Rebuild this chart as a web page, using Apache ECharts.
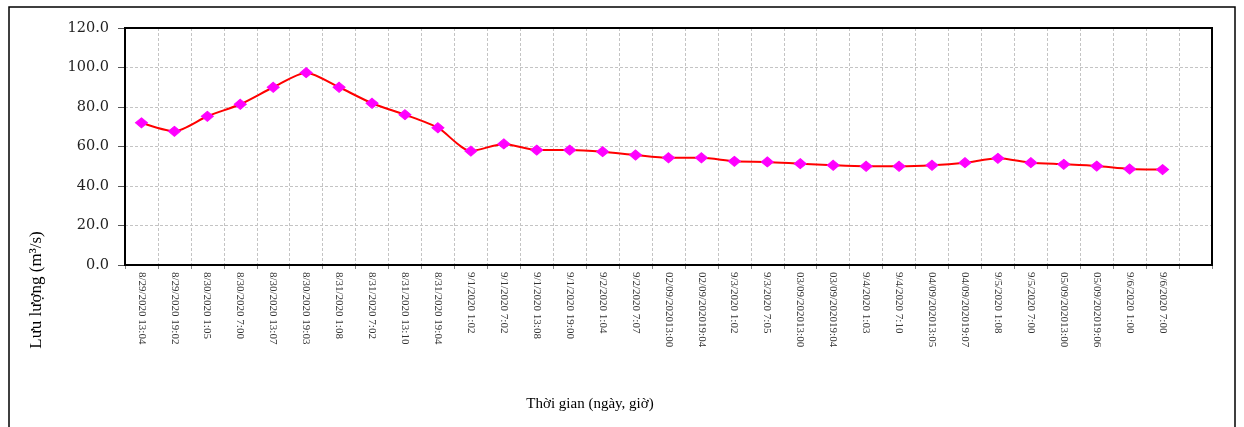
<!DOCTYPE html>
<html>
<head>
<meta charset="utf-8">
<script src="https://cdn.jsdelivr.net/npm/echarts@6/dist/echarts.min.js"></script>
<style>
  html, body { margin: 0; padding: 0; background: #fff; }
  #chart { width: 1244px; height: 427px; }
</style>
</head>
<body>
<div id="chart"></div>
<script>
// Thời điểm quan trắc (nhãn trục hoành); ô cuối để trống
const timeLabels = [
  '8/29/2020 13:04', '8/29/2020 19:02', '8/30/2020 1:05', '8/30/2020 7:00',
  '8/30/2020 13:07', '8/30/2020 19:03', '8/31/2020 1:08', '8/31/2020 7:02',
  '8/31/2020 13:10', '8/31/2020 19:04', '9/1/2020 1:02', '9/1/2020 7:02',
  '9/1/2020 13:08', '9/1/2020 19:00', '9/2/2020 1:04', '9/2/2020 7:07',
  '02/09/202013:00', '02/09/202019:04', '9/3/2020 1:02', '9/3/2020 7:05',
  '03/09/202013:00', '03/09/202019:04', '9/4/2020 1:03', '9/4/2020 7:10',
  '04/09/202013:05', '04/09/202019:07', '9/5/2020 1:08', '9/5/2020 7:00',
  '05/09/202013:00', '05/09/202019:06', '9/6/2020 1:00', '9/6/2020 7:00',
  ''
];

// Lưu lượng (m³/s)
const flowValues = [
  72.0, 67.7, 75.3, 81.4, 90.0, 97.4, 90.0, 81.9,
  76.1, 69.5, 57.7, 61.3, 58.2, 58.2, 57.4, 55.7,
  54.3, 54.3, 52.5, 52.2, 51.3, 50.5, 50.0, 50.0,
  50.5, 51.8, 54.0, 51.8, 51.0, 50.1, 48.6, 48.3
];

// Vạch chia trục tung
const yTicks = { min: 0, max: 120, interval: 20 };

const PLOT = { left: 125, top: 28, right: 32, bottom: 162 };
const W = 1244, H = 427;

const chart = echarts.init(document.getElementById('chart'), null, { renderer: 'canvas' });

chart.setOption({
  backgroundColor: '#ffffff',
  animation: false,
  grid: { left: PLOT.left, top: PLOT.top, right: PLOT.right, bottom: PLOT.bottom },
  xAxis: {
    type: 'category',
    data: timeLabels,
    boundaryGap: true,
    axisLine: { lineStyle: { color: '#000', width: 2 } },
    axisTick: { show: true, interval: 0, length: 4, lineStyle: { color: '#888' } },
    axisLabel: {
      interval: 0, rotate: -90, margin: 7,
      fontFamily: 'Liberation Serif', fontSize: 11, color: '#333'
    },
    splitLine: { show: true, interval: 0, lineStyle: { color: '#c4c4c4', type: [3, 2], width: 1 } }
  },
  yAxis: {
    type: 'value',
    min: yTicks.min, max: yTicks.max, interval: yTicks.interval,
    axisLine: { show: true, lineStyle: { color: '#000', width: 2 } },
    axisTick: { show: true, length: 7, lineStyle: { color: '#555' } },
    axisLabel: {
      margin: 16, fontFamily: 'DejaVu Serif', fontSize: 14.5, color: '#222',
      formatter: v => v.toFixed(1)
    },
    splitLine: { show: true, lineStyle: { color: '#c4c4c4', type: [3, 2], width: 1 } }
  },
  series: [{
    type: 'line',
    data: flowValues,
    smooth: 0.25,
    lineStyle: { color: '#ff0000', width: 2 },
    symbol: 'diamond',
    symbolSize: [12, 10],
    itemStyle: { color: '#ff00ff', borderColor: '#ff00ff' },
    z: 3
  }],
  graphic: [
    {
      // khung ngoài
      type: 'rect', silent: true, z: -1,
      shape: { x: 9, y: 7, width: 1226, height: 440 },
      style: { fill: 'none', stroke: '#000', lineWidth: 1.5 }
    },
    {
      // viền đậm của vùng vẽ
      type: 'rect', silent: true, z: 10,
      shape: {
        x: PLOT.left, y: PLOT.top,
        width: W - PLOT.left - PLOT.right, height: H - PLOT.top - PLOT.bottom
      },
      style: { fill: 'none', stroke: '#000', lineWidth: 2 }
    },
    {
      type: 'text', silent: true,
      x: 37, y: 290, rotation: Math.PI / 2,
      style: {
        text: 'Lưu lượng (m³/s)',
        font: '17px "Liberation Serif"', fill: '#000',
        align: 'center', verticalAlign: 'middle'
      }
    },
    {
      type: 'text', silent: true,
      x: 590, y: 404,
      style: {
        text: 'Thời gian (ngày, giờ)',
        font: '15px "Liberation Serif"', fill: '#000',
        align: 'center', verticalAlign: 'middle'
      }
    }
  ]
});
</script>
</body>
</html>
